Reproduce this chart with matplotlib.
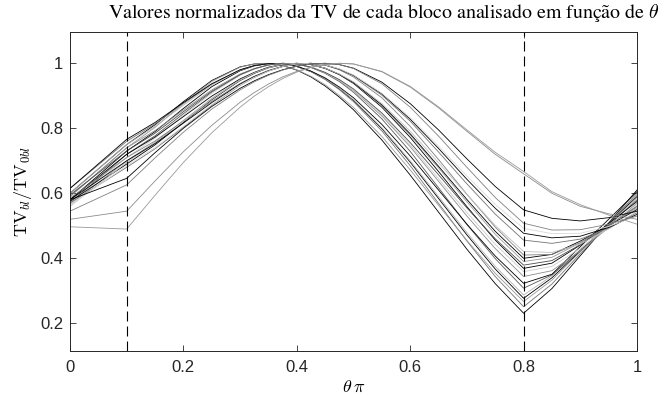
import matplotlib
matplotlib.use("Agg")
import matplotlib.pyplot as plt

plt.rcParams['mathtext.fontset'] = 'cm'

# ---------------- data ----------------
theta = [0, 0.1, 0.15, 0.2, 0.25, 0.3, 0.325, 0.35, 0.375, 0.4, 0.425, 0.45,
         0.475, 0.5, 0.55, 0.6, 0.65, 0.7, 0.75, 0.8, 0.85, 0.9, 0.95, 1.0]

tv_b01 = [0.600, 0.750, 0.811, 0.882, 0.947, 0.989, 0.998, 0.999, 0.993, 0.979, 0.958, 0.930, 0.896, 0.857, 0.764, 0.656, 0.542, 0.428, 0.322, 0.231, 0.307, 0.408, 0.509, 0.610]
tv_b02 = [0.615, 0.760, 0.814, 0.876, 0.936, 0.980, 0.993, 0.999, 0.999, 0.990, 0.974, 0.950, 0.919, 0.882, 0.792, 0.685, 0.569, 0.453, 0.344, 0.251, 0.321, 0.414, 0.507, 0.600]
tv_b03 = [0.590, 0.740, 0.803, 0.877, 0.944, 0.988, 0.998, 0.999, 0.993, 0.980, 0.960, 0.934, 0.901, 0.864, 0.775, 0.672, 0.563, 0.455, 0.354, 0.267, 0.333, 0.420, 0.508, 0.595]
tv_b04 = [0.580, 0.730, 0.790, 0.861, 0.928, 0.977, 0.992, 0.999, 0.999, 0.990, 0.975, 0.952, 0.922, 0.886, 0.799, 0.696, 0.584, 0.472, 0.367, 0.277, 0.340, 0.423, 0.507, 0.590]
tv_b05 = [0.600, 0.750, 0.806, 0.871, 0.933, 0.979, 0.993, 0.999, 0.999, 0.990, 0.975, 0.952, 0.923, 0.888, 0.802, 0.700, 0.590, 0.479, 0.375, 0.287, 0.346, 0.426, 0.506, 0.585]
tv_b06 = [0.570, 0.720, 0.777, 0.845, 0.911, 0.964, 0.983, 0.995, 1.000, 0.998, 0.987, 0.969, 0.944, 0.911, 0.829, 0.729, 0.617, 0.504, 0.399, 0.308, 0.349, 0.425, 0.501, 0.580]
tv_b07 = [0.615, 0.766, 0.818, 0.879, 0.937, 0.980, 0.993, 0.999, 0.999, 0.991, 0.976, 0.955, 0.927, 0.894, 0.812, 0.715, 0.610, 0.505, 0.407, 0.323, 0.351, 0.436, 0.520, 0.605]
tv_b08 = [0.590, 0.740, 0.793, 0.856, 0.918, 0.967, 0.984, 0.995, 1.000, 0.998, 0.988, 0.971, 0.947, 0.916, 0.838, 0.743, 0.637, 0.530, 0.430, 0.344, 0.362, 0.423, 0.495, 0.570]
tv_b09 = [0.570, 0.710, 0.770, 0.840, 0.908, 0.963, 0.982, 0.995, 1.000, 0.998, 0.988, 0.971, 0.948, 0.918, 0.842, 0.749, 0.645, 0.541, 0.443, 0.359, 0.375, 0.431, 0.497, 0.565]
tv_b10 = [0.580, 0.720, 0.773, 0.836, 0.899, 0.952, 0.972, 0.988, 0.997, 1.000, 0.996, 0.984, 0.965, 0.938, 0.865, 0.772, 0.667, 0.559, 0.456, 0.369, 0.385, 0.441, 0.507, 0.575]
tv_b11 = [0.595, 0.730, 0.785, 0.851, 0.914, 0.965, 0.983, 0.995, 1.000, 0.998, 0.988, 0.972, 0.950, 0.921, 0.847, 0.756, 0.657, 0.555, 0.460, 0.379, 0.393, 0.442, 0.500, 0.560]
tv_b12 = [0.565, 0.700, 0.757, 0.824, 0.892, 0.949, 0.970, 0.987, 0.997, 1.000, 0.996, 0.985, 0.966, 0.940, 0.869, 0.779, 0.678, 0.574, 0.474, 0.390, 0.403, 0.448, 0.501, 0.555]
tv_b13 = [0.575, 0.690, 0.749, 0.818, 0.888, 0.947, 0.969, 0.986, 0.996, 1.000, 0.996, 0.985, 0.966, 0.941, 0.872, 0.783, 0.683, 0.581, 0.483, 0.400, 0.412, 0.453, 0.501, 0.550]
tv_b14 = [0.585, 0.710, 0.761, 0.822, 0.883, 0.938, 0.960, 0.978, 0.991, 0.998, 1.000, 0.994, 0.980, 0.958, 0.894, 0.806, 0.704, 0.597, 0.496, 0.410, 0.412, 0.448, 0.500, 0.560]
tv_b15 = [0.560, 0.695, 0.753, 0.821, 0.890, 0.948, 0.970, 0.986, 0.997, 1.000, 0.996, 0.985, 0.967, 0.943, 0.876, 0.791, 0.694, 0.596, 0.501, 0.421, 0.418, 0.444, 0.490, 0.545]
tv_b16 = [0.570, 0.680, 0.737, 0.803, 0.871, 0.932, 0.956, 0.976, 0.990, 0.998, 1.000, 0.995, 0.982, 0.962, 0.902, 0.822, 0.727, 0.629, 0.536, 0.456, 0.446, 0.459, 0.493, 0.540]
tv_b17 = [0.580, 0.700, 0.753, 0.816, 0.879, 0.936, 0.959, 0.977, 0.990, 0.998, 1.000, 0.995, 0.982, 0.963, 0.906, 0.828, 0.738, 0.643, 0.554, 0.477, 0.463, 0.468, 0.495, 0.535]
tv_b18 = [0.565, 0.685, 0.741, 0.806, 0.873, 0.933, 0.957, 0.976, 0.990, 0.998, 1.000, 0.995, 0.983, 0.964, 0.908, 0.833, 0.745, 0.653, 0.566, 0.492, 0.476, 0.477, 0.498, 0.530]
tv_b19 = [0.580, 0.646, 0.725, 0.800, 0.867, 0.923, 0.946, 0.965, 0.980, 0.991, 0.998, 1.000, 0.996, 0.985, 0.942, 0.876, 0.795, 0.706, 0.621, 0.549, 0.523, 0.515, 0.525, 0.545]
tv_b20 = [0.545, 0.626, 0.709, 0.788, 0.859, 0.918, 0.943, 0.963, 0.979, 0.991, 0.998, 1.000, 0.996, 0.984, 0.937, 0.865, 0.776, 0.680, 0.587, 0.508, 0.487, 0.488, 0.505, 0.530]
tv_b21 = [0.520, 0.545, 0.638, 0.728, 0.809, 0.880, 0.910, 0.936, 0.958, 0.975, 0.988, 0.996, 1.000, 0.998, 0.974, 0.927, 0.863, 0.791, 0.720, 0.660, 0.600, 0.560, 0.537, 0.520]
tv_b22 = [0.497, 0.490, 0.594, 0.695, 0.786, 0.865, 0.899, 0.928, 0.953, 0.973, 0.987, 0.996, 1.000, 0.998, 0.975, 0.929, 0.866, 0.795, 0.726, 0.667, 0.605, 0.565, 0.533, 0.505]

curves = [tv_b01, tv_b02, tv_b03, tv_b04, tv_b05, tv_b06, tv_b07, tv_b08,
          tv_b09, tv_b10, tv_b11, tv_b12, tv_b13, tv_b14, tv_b15, tv_b16,
          tv_b17, tv_b18, tv_b19, tv_b20, tv_b21, tv_b22]

dashed_theta = [0.1, 0.8]

x_ticks = [0, 0.2, 0.4, 0.6, 0.8, 1.0]
x_tick_labels = ['0', '0.2', '0.4', '0.6', '0.8', '1']
y_ticks = [0.2, 0.4, 0.6, 0.8, 1.0]
y_tick_labels = ['0.2', '0.4', '0.6', '0.8', '1']

title_text = 'Valores normalizados da TV de cada bloco analisado em função de $\\theta$'
xlabel_text = r'$\theta\,\pi$'
ylabel_text = r'$\mathrm{TV}_{bl}/\mathrm{TV}_{0bl}$'

# ---------------- styles ----------------
gray_levels = [0.0, 0.45, 0.6, 0.0, 0.7, 0.35, 0.0, 0.55, 0.8, 0.0, 0.3,
               0.6, 0.0, 0.5, 0.75, 0.45, 0.0, 0.85, 0.0, 0.5, 0.55, 0.6]
axis_col = (0.15, 0.15, 0.15)

fig = plt.figure(figsize=(6.68, 3.99), dpi=100)
ax = fig.add_axes([70 / 668, 1 - 351 / 399, 567 / 668, 319.3 / 399])

for curve, g in zip(curves, gray_levels):
    ax.plot(theta, curve, color=(g, g, g), lw=0.6)

for xv in dashed_theta:
    ax.axvline(xv, color='black', lw=0.8, linestyle=(0, (9, 4.5)))

ax.set_xlim(0, 1)
ax.set_ylim(0.1148, 1.0972)
ax.set_xticks(x_ticks)
ax.set_xticklabels(x_tick_labels)
ax.set_yticks(y_ticks)
ax.set_yticklabels(y_tick_labels)
ax.tick_params(direction='in', top=True, right=True, length=4, width=0.6,
               color=axis_col, labelcolor=axis_col, labelsize=12)
ax.tick_params(axis='x', pad=6.5)
ax.tick_params(axis='y', pad=5)
for lab in ax.get_xticklabels() + ax.get_yticklabels():
    lab.set_family('Liberation Sans')
for sp in ax.spines.values():
    sp.set_color(axis_col)
    sp.set_linewidth(0.7)

ax.set_xlabel(xlabel_text, fontsize=13, labelpad=2, color='black')
ax.set_ylabel(ylabel_text, fontsize=13, labelpad=4, color='black')

fig.text(384 / 668, 1 - 13 / 399, title_text, ha='center', va='center',
         fontsize=14.3, family=['STIXGeneral', 'DejaVu Serif'])

fig.savefig('out.png', dpi=100)
